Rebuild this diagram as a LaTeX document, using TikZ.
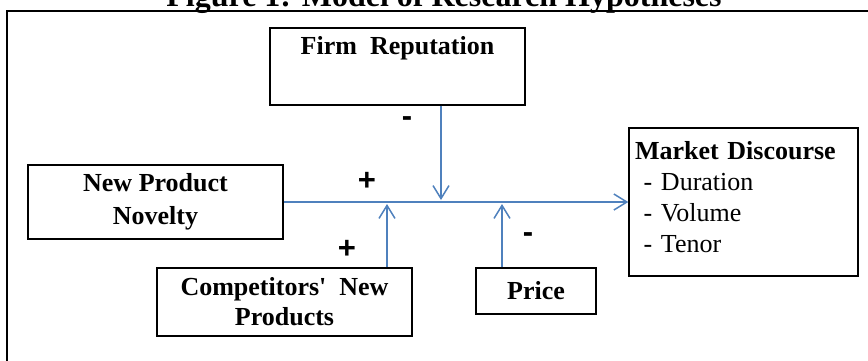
\documentclass[tikz,border=0pt]{standalone}
\usepackage{fontspec}
\setmainfont{Liberation Serif}
\newfontfamily\labfont{Liberation Sans}
\usetikzlibrary{arrows.meta}
\definecolor{linkblue}{RGB}{79,129,189}
\begin{document}
\begin{tikzpicture}[x=1pt,y=-1pt,
  box/.style={draw=black, line width=1.4pt, align=center, inner sep=0pt,
    font=\fontsize{26}{33}\selectfont\bfseries},
  arr/.style={draw=linkblue, line width=1.5pt,
    -{Straight Barb[length=13pt,width=16pt,line width=1.5pt]}},
  sign/.style={font=\labfont\fontsize{31}{31}\selectfont\bfseries, inner sep=0pt},
  frame/.style={line width=2.5pt}]
\useasboundingbox (0,0) rectangle (868,360);
\clip (0,0) rectangle (868,360);
% title (cut at top, as in the reference)
\node[font=\fontsize{32}{36}\selectfont\bfseries, anchor=base, inner sep=0pt]
  (title) at (444,6) {Figure 1: Model of Research Hypotheses};
% outer frame
\coordinate (fl) at (7,362);
\coordinate (fc) at (7,11);
\coordinate (fr) at (870,11);
\draw[frame] (fl) -- (fc) -- (fr);
% boxes
\node[box, minimum width=255, minimum height=77] (firm) at (397.5,66.5)
  {Firm\ \ Reputation\\ \strut};
\node[box, minimum width=255, minimum height=74] (npn) at (155.5,202)
  {New Product\\Novelty};
\node[box, minimum width=255, minimum height=68,
  font=\fontsize{26}{30}\selectfont\bfseries] (comp) at (284.5,302)
  {Competitors\textquotesingle\ \ New\\Products};
\node[box, minimum width=120, minimum height=46] (price) at (536,291) {Price};
\node[draw=black, line width=1.4pt, minimum width=229, minimum height=148,
  text width=217, align=left, inner xsep=6pt, inner ysep=0pt,
  font=\fontsize{26}{31}\selectfont] (md) at (743.5,202)
  {\textbf{Market Discourse}\\
   \ - Duration\\
   \ - Volume\\
   \ - Tenor\rule[-11pt]{0pt}{0pt}};
% junction points on the main line
\coordinate (jf) at (441,200);
\coordinate (jc) at (387,204);
\coordinate (jp) at (502,204);
% connectors
\draw[arr] (npn.east) -- (md.west);
\draw[arr] (firm.south -| jf) -- (jf);
\draw[arr] (comp.north -| jc) -- (jc);
\draw[arr] (price.north -| jp) -- (jp);
% signs
\node[sign] (s1) at (407,122) {-};
\node[sign] (s2) at (367,181) {+};
\node[sign] (s3) at (347,249) {+};
\node[sign] (s4) at (528,238) {-};
\end{tikzpicture}
\end{document}
